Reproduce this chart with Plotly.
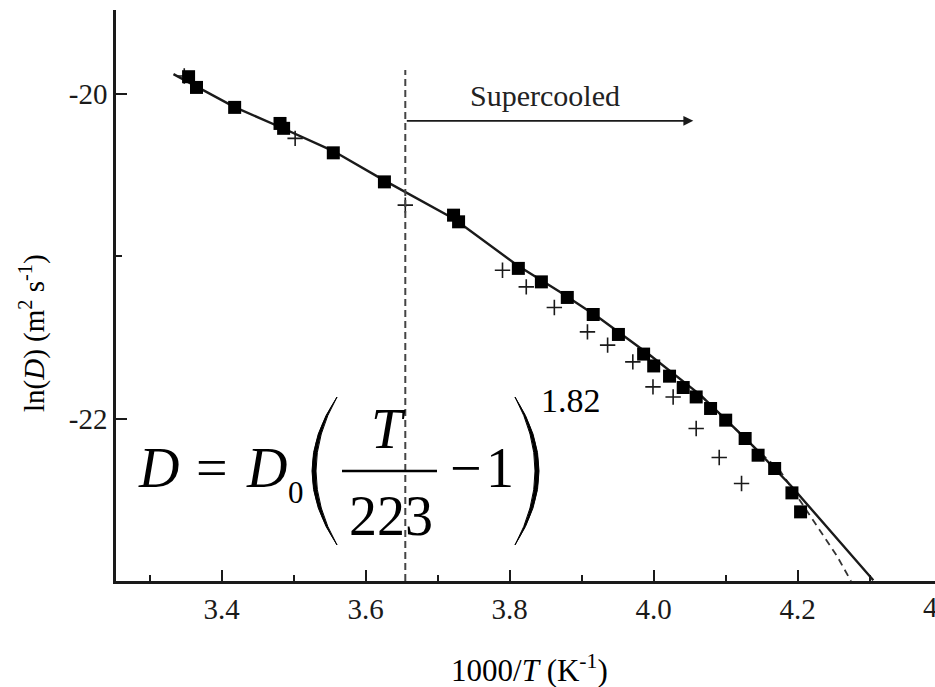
import plotly.graph_objects as go

# ---------------- data ----------------
sq_x = [3.354, 3.365, 3.418, 3.481, 3.486, 3.555, 3.626, 3.722, 3.729, 3.812, 3.844,
        3.880, 3.916, 3.951, 3.986, 4.000, 4.022, 4.041, 4.059, 4.079, 4.100, 4.127,
        4.145, 4.168, 4.192, 4.204]
sq_y = [-19.893, -19.959, -20.082, -20.181, -20.211, -20.362, -20.541, -20.746, -20.787,
        -21.074, -21.157, -21.253, -21.358, -21.481, -21.602, -21.675, -21.738, -21.808,
        -21.866, -21.937, -22.009, -22.122, -22.225, -22.307, -22.457, -22.574]

cr_x = [3.348, 3.502, 3.655, 3.790, 3.823, 3.862, 3.908, 3.936, 3.971, 3.999, 4.027,
        4.059, 4.091, 4.122]
cr_y = [-19.889, -20.273, -20.684, -21.085, -21.188, -21.315, -21.465, -21.547, -21.650,
        -21.804, -21.866, -22.060, -22.239, -22.399]

fit_x = [3.333, 3.418, 3.481, 3.555, 3.625, 3.657, 3.723, 3.812, 3.870, 3.925, 3.995,
         4.065, 4.134, 4.190, 4.240, 4.305]
fit_y = [-19.877, -20.080, -20.203, -20.351, -20.530, -20.610, -20.770, -21.060, -21.220,
         -21.381, -21.609, -21.855, -22.151, -22.410, -22.667, -22.995]

fit2_x = [4.065, 4.134, 4.176, 4.224, 4.254, 4.274]
fit2_y = [-21.855, -22.151, -22.324, -22.645, -22.842, -23.0]

melt_x = 3.655            # 1000/273 K boundary
melt_top = -19.852
arrow_end_x = 4.055
arrow_y = -20.165

x_ticks = [3.4, 3.6, 3.8, 4.0, 4.2]
x_ticktext = ["3.4", "3.6", "3.8", "4.0", "4.2"]
x_minor = [3.3, 3.5, 3.7, 3.9, 4.1, 4.3]
y_ticks = [-20, -22]
y_ticktext = ["-20", "-22"]
y_minor = [-21]

X_RANGE = [3.2532, 4.3907]
Y_RANGE = [-23.0, -19.482]

# ---------------- layout helpers ----------------
W, H = 935, 687
L, R, T, B = 116, 935, 10, 581
SERIF = "Liberation Serif, Times New Roman, serif"
INK = "#1a1a1a"


def pxx(px):
    return (px - L) / (R - L)


def pxy(py):
    return (B - py) / (B - T)


fig = go.Figure()

fig.add_trace(go.Scatter(x=fit2_x, y=fit2_y, mode="lines",
                         line=dict(color="#333", width=1.8, dash="7px,5px"),
                         hoverinfo="skip"))
fig.add_trace(go.Scatter(x=fit_x, y=fit_y, mode="lines",
                         line=dict(color=INK, width=2.4), hoverinfo="skip"))
fig.add_trace(go.Scatter(x=cr_x, y=cr_y, mode="markers",
                         marker=dict(symbol="cross-thin", size=11,
                                     line=dict(color=INK, width=1.6))))
fig.add_trace(go.Scatter(x=sq_x, y=sq_y, mode="markers",
                         marker=dict(symbol="square", size=13, color="black",
                                     line=dict(width=0))))

# vertical dashed line
fig.add_shape(type="line", x0=melt_x, x1=melt_x, y0=Y_RANGE[0], y1=melt_top,
              xref="x", yref="y", line=dict(color="#444", width=2, dash="7px,4px"))

# arrow
fig.add_annotation(x=arrow_end_x, y=arrow_y, ax=melt_x, ay=arrow_y,
                   xref="x", yref="y", axref="x", ayref="y", text="",
                   showarrow=True, arrowhead=2, arrowsize=1.1, arrowwidth=1.8,
                   arrowcolor=INK)
fig.add_annotation(x=3.849, y=-20.006, xref="x", yref="y", text="Supercooled",
                   showarrow=False, font=dict(family=SERIF, size=30, color="#222"))

annots = []


def txt(text, cx, cy, size, **kw):
    annots.append(dict(text=text, x=pxx(cx), y=pxy(cy), xref="paper", yref="paper",
                       showarrow=False, xanchor="center", yanchor="middle",
                       font=dict(family=SERIF, size=size, color="black"), **kw))


# formula
txt("<i>D</i>", 158.5, 467.7, 56)
txt("=", 211.5, 467.7, 56)
txt("<i>D</i>", 266.5, 467.7, 56)
txt("0", 295.5, 492.5, 31)
txt("<i>T</i>", 388.5, 429, 56)
txt("223", 391, 516, 56)
txt("\u2212", 466, 467.7, 56)
txt("1", 500, 467.7, 56)
txt("1.82", 571, 400.4, 34)

# axis titles
txt("ln(<i>D</i>) (m<sup>2</sup> s<sup>-1</sup>)", 32, 333, 29, textangle=-90)
txt("1000/<i>T</i> (K<sup>-1</sup>)", 529, 668, 31)
# partially visible last tick label
annots.append(dict(text="4.4", x=pxx(941.7), y=pxy(606.7), xref="paper", yref="paper",
                   showarrow=False, xanchor="center", yanchor="middle",
                   font=dict(family=SERIF, size=29, color=INK)))
for a in annots:
    fig.add_annotation(**a)

# fraction bar
fig.add_shape(type="line", xref="paper", yref="paper",
              x0=pxx(342), x1=pxx(437), y0=pxy(471), y1=pxy(471),
              line=dict(color="black", width=2.5))


def paren(xe, ytop, ybot, xo, xi):
    ym = (ytop + ybot) / 2
    co = 2 * xo - xe
    ci = 2 * xi - xe
    return (f"M {pxx(xe)},{pxy(ytop)} Q {pxx(co)},{pxy(ym)} {pxx(xe)},{pxy(ybot)} "
            f"Q {pxx(ci)},{pxy(ym)} {pxx(xe)},{pxy(ytop)} Z")


fig.add_shape(type="path", xref="paper", yref="paper",
              path=paren(337, 397, 545, 312, 316),
              fillcolor="black", line=dict(color="black", width=1))
fig.add_shape(type="path", xref="paper", yref="paper",
              path=paren(515, 397, 545, 539, 535),
              fillcolor="black", line=dict(color="black", width=1))

fig.update_layout(
    width=W, height=H,
    margin=dict(l=L, r=W - R, t=T, b=H - B, pad=0),
    paper_bgcolor="white", plot_bgcolor="white",
    showlegend=False,
    xaxis=dict(range=X_RANGE, showline=True, linewidth=2.5, linecolor=INK,
               ticks="inside", ticklen=11, tickwidth=2.2, tickcolor=INK,
               tickvals=x_ticks, ticktext=x_ticktext,
               tickfont=dict(family=SERIF, size=29, color=INK),
               showgrid=False, zeroline=False,
               minor=dict(ticks="inside", ticklen=6, tickwidth=2, tickcolor=INK,
                          tickvals=x_minor, showgrid=False)),
    yaxis=dict(range=Y_RANGE, showline=True, linewidth=2.5, linecolor=INK,
               ticks="inside", ticklen=11, tickwidth=2.2, tickcolor=INK,
               tickvals=y_ticks, ticktext=y_ticktext,
               tickfont=dict(family=SERIF, size=29, color=INK),
               showgrid=False, zeroline=False,
               minor=dict(ticks="inside", ticklen=6, tickwidth=2, tickcolor=INK,
                          tickvals=y_minor, showgrid=False)),
)

fig.write_html("out.html")
